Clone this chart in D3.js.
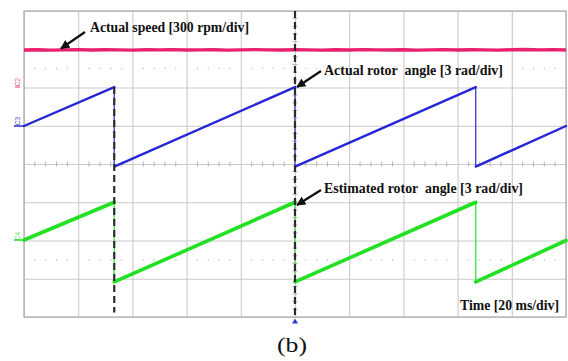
<!DOCTYPE html>
<html><head><meta charset="utf-8">
<script src="https://cdn.jsdelivr.net/npm/d3@7"></script>
<style>html,body{margin:0;padding:0;background:#fff;}svg{display:block;}</style>
</head><body>
<svg id="c" width="568" height="361"></svg>
<script>
// ---- data ----
const timeDivMs = 20;            // ms per division
const speedDivRpm = 300;         // rpm per division
const angleDivRad = 3;           // rad per division
// speed trace (C2), sampled every 5 ms from -100 to 100 ms
const speedTime = [-100,-95,-90,-85,-80,-75,-70,-65,-60,-55,-50,-45,-40,-35,-30,-25,-20,-15,-10,-5,0,5,10,15,20,25,30,35,40,45,50,55,60,65,70,75,80,85,90,95,100];
const speedRpm  = [894,896,893,895,897,894,896,895,893,896,895,897,894,895,896,893,895,897,895,894,896,895,893,896,894,897,895,894,896,893,895,897,894,896,895,893,896,898,895,897,894];
// rotor angle sawtooth vertices (C3 actual, C4 estimated)
const angleTime      = [-100, -66.7, -66.7, 0, 0, 66.7, 66.7, 100];
const actualAngle    = [2.98, 6.03, -0.2, 6.03, -0.2, 6.03, -0.2, 2.98];
const estimatedAngle = [3.04, 6.0, -0.25, 6.0, -0.25, 6.0, -0.25, 3.0];
const channelOffsetDiv = {C2: 0, C3: 0, C4: -3};
const labels = {
  speed: "Actual speed [300 rpm/div]",
  actual: "Actual rotor  angle [3 rad/div]",
  estimated: "Estimated rotor  angle [3 rad/div]",
  time: "Time [20 ms/div]",
  caption: "(b)"
};

// ---- layout ----
const svg = d3.select("#c");
const L = 24, R = 566, T = 11, B = 317;
const x = d3.scaleLinear().domain([-5*timeDivMs, 5*timeDivMs]).range([L, R]);
const y = d3.scaleLinear().domain([-4, 4]).range([B, T]);
const gridC = "#c9c9c9";

svg.append("rect").attr("width",568).attr("height",361).attr("fill","#fff");

// grid via axes
const gx = svg.append("g").attr("transform",`translate(0,${B})`)
  .call(d3.axisBottom(x).tickValues(d3.range(-100,101,20)).tickSize(-(B-T)).tickFormat(""));
const gy = svg.append("g").attr("transform",`translate(${L},0)`)
  .call(d3.axisLeft(y).tickValues(d3.range(-4,5,1)).tickSize(-(R-L)).tickFormat(""));
[gx,gy].forEach(g=>{g.select(".domain").remove();g.selectAll("line").attr("stroke",gridC).attr("stroke-width",1.1);});

// minor ticks on centre axes
const minorT = d3.range(-100,100.1,4).filter(v=>v%20!==0);
svg.append("g").selectAll("line").data(minorT).join("line")
  .attr("x1",d=>x(d)).attr("x2",d=>x(d)).attr("y1",y(0)-2.5).attr("y2",y(0)+2.5)
  .attr("stroke","#b4b4b4").attr("stroke-width",1);
const minorY = d3.range(-4,4.01,0.2).filter(v=>Math.abs(v-Math.round(v))>0.01);
svg.append("g").selectAll("line").data(minorY).join("line")
  .attr("x1",x(0)-2.5).attr("x2",x(0)+2.5).attr("y1",d=>y(d)).attr("y2",d=>y(d))
  .attr("stroke","#b4b4b4").attr("stroke-width",1);
// dotted rows at +/-2.5 div
[2.5,-2.5].forEach(lv=>{
  svg.append("g").selectAll("circle").data(minorT)
    .join("circle").attr("cx",d=>x(d)).attr("cy",y(lv)).attr("r",0.75).attr("fill","#c0c0c0");
});
// frame
svg.append("rect").attr("x",L).attr("y",T).attr("width",R-L).attr("height",B-T)
  .attr("fill","none").attr("stroke","#b8b8b8").attr("stroke-width",1.5);

// traces
const pink="#e8206e", blue="#2626d6", green="#22e022";
const spLine = d3.line().x((d,i)=>x(speedTime[i])).y(d=>y(d/speedDivRpm + channelOffsetDiv.C2)).curve(d3.curveLinear);
svg.append("path").datum(speedRpm).attr("d",spLine).attr("fill","none")
  .attr("stroke",pink).attr("stroke-width",3.4);

function drawSaw(vals, off, color, w){
  for(let i=0;i<vals.length-1;i++){
    const ramp = angleTime[i]!==angleTime[i+1];
    svg.append("line")
      .attr("x1",x(angleTime[i])).attr("x2",x(angleTime[i+1]))
      .attr("y1",y(vals[i]/angleDivRad+off)).attr("y2",y(vals[i+1]/angleDivRad+off))
      .attr("stroke",color).attr("stroke-width",ramp?w:1.2).attr("stroke-linecap","round");
  }
}
drawSaw(actualAngle, channelOffsetDiv.C3, blue, 2.4);
drawSaw(estimatedAngle, channelOffsetDiv.C4, green, 3.6);

// dashed marker lines
const dash="#2b2b2b";
svg.append("line").attr("x1",x(-66.7)).attr("x2",x(-66.7))
  .attr("y1",y(actualAngle[1]/angleDivRad)).attr("y2",y(-3.88))
  .attr("stroke",dash).attr("stroke-width",2.2).attr("stroke-dasharray","7,4");
svg.append("line").attr("x1",x(0)).attr("x2",x(0)).attr("y1",T).attr("y2",B)
  .attr("stroke",dash).attr("stroke-width",2.2).attr("stroke-dasharray","7,4");
// trigger marker
svg.append("path").attr("d",`M${x(0)},${B+1.5} l3,5 l-6,0 z`).attr("fill","#3333dd");

// channel labels
function chLabel(txt,color,xx,yy,lineY){
  svg.append("text").attr("transform",`translate(${xx},${yy}) rotate(-90)`)
    .attr("text-anchor","middle").attr("font-family","Liberation Sans, Arial, sans-serif")
    .attr("font-size",6.5).attr("fill",color).attr("opacity",0.8).text(txt);
  if(lineY!=null) svg.append("line").attr("x1",14).attr("x2",L).attr("y1",lineY).attr("y2",lineY)
    .attr("stroke",color).attr("stroke-width",1.5);
}
chLabel("C2",pink,19.5,82,null);
svg.append("line").attr("x1",15).attr("x2",20).attr("y1",87).attr("y2",87).attr("stroke",pink).attr("stroke-width",1.3).attr("opacity",0.7);
chLabel("C3",blue,19.5,121,y(actualAngle[0]/angleDivRad));
chLabel("C4",green,19.5,236,y(estimatedAngle[0]/angleDivRad+channelOffsetDiv.C4));

// annotations
svg.append("defs").append("marker").attr("id","ah").attr("viewBox","0 0 10 10")
  .attr("refX",9).attr("refY",5).attr("markerWidth",4.2).attr("markerHeight",4.2)
  .attr("orient","auto").append("path").attr("d","M0,0 L10,5 L0,10 z").attr("fill","#111");
function arrow(x1,y1,x2,y2){
  svg.append("line").attr("x1",x1).attr("y1",y1).attr("x2",x2).attr("y2",y2)
    .attr("stroke","#111").attr("stroke-width",2.2).attr("marker-end","url(#ah)");
}
function note(txt,x0,x1,base){
  svg.append("text").attr("x",x0).attr("y",base)
    .attr("font-family","'Times New Roman','Liberation Serif',serif").attr("font-weight","bold")
    .attr("font-size",14).attr("fill","#111").attr("xml:space","preserve")
    .style("white-space","pre")
    .attr("textLength",x1-x0).attr("lengthAdjust","spacingAndGlyphs").text(txt);
}
note(labels.speed,90,249,31.5);
arrow(85,32,61,48.5);
note(labels.actual,324,503,75);
arrow(321,71,297,87);
note(labels.estimated,324,523,193);
arrow(321,190,297,205);
note(labels.time,460,559,310);

svg.append("text").attr("x",277).attr("y",351.5)
  .attr("font-family","'Times New Roman','Liberation Serif',serif").attr("font-size",20)
  .attr("fill","#111").attr("textLength",30).attr("lengthAdjust","spacingAndGlyphs").text(labels.caption);
</script>
</body></html>
